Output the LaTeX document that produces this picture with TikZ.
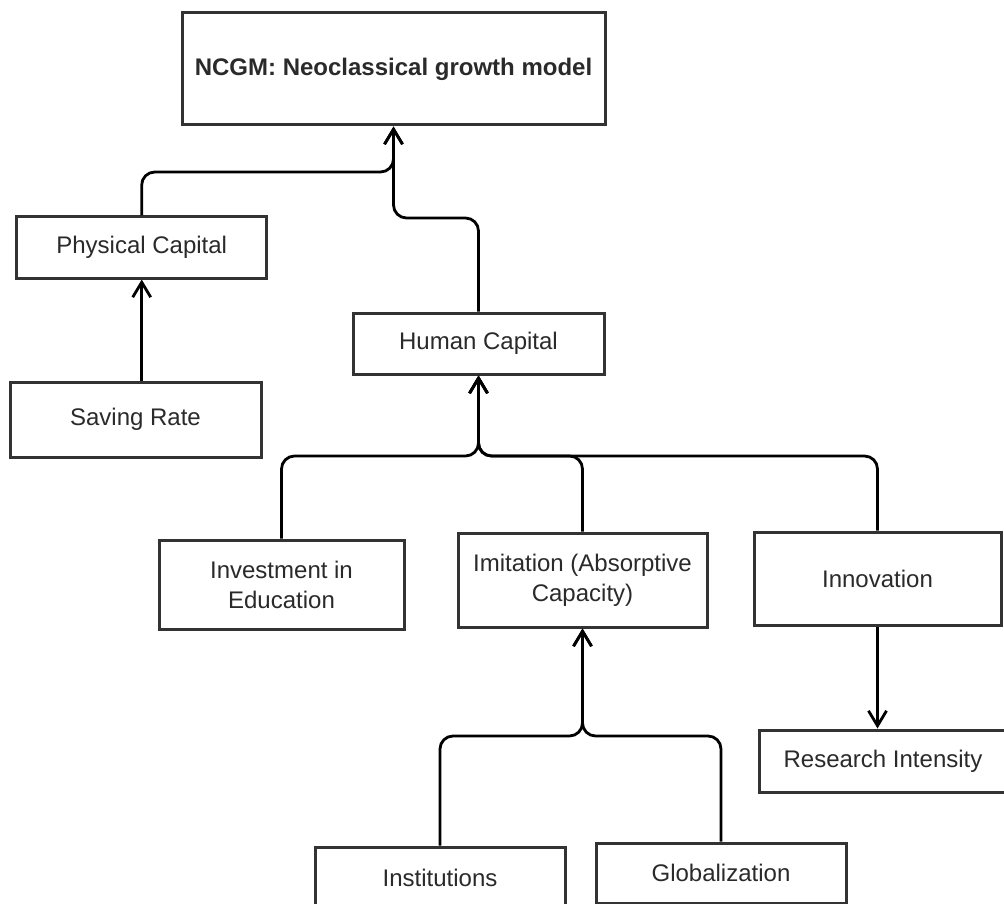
\documentclass[tikz,border=0pt]{standalone}
\usepackage{fontspec}
\setmainfont{Liberation Sans}
\usetikzlibrary{arrows.meta}
\definecolor{boxline}{HTML}{333333}
\definecolor{txt}{HTML}{2A2A2A}
\begin{document}
\begin{tikzpicture}[x=1pt,y=-1pt,
  box/.style={draw=boxline,line width=3pt,fill=white,inner sep=0pt,align=center,
    text=txt,font=\fontsize{24}{30}\selectfont},
  conn/.style={draw=black,line width=2.8pt,rounded corners=13pt},
  arr/.style={-{Straight Barb[length=15pt,width=18pt,line width=2.8pt]}}
]
\useasboundingbox (0,0) rectangle (1004,904);
\fill[white] (0,0) rectangle (1004,904);
% nodes
\node[box,minimum width=423pt,minimum height=112pt,font=\fontsize{24}{30}\selectfont\bfseries] (ncgm) at (393.5,69) {NCGM: Neoclassical growth model};
\node[box,minimum width=250pt,minimum height=61pt] (phys) at (141.7,247.5) {Physical Capital};
\node[box,minimum width=251pt,minimum height=75pt] (save) at (135.5,419.5) {Saving Rate};
\node[box,minimum width=251pt,minimum height=61pt] (hc) at (478.5,343.5) {Human Capital};
\node[box,minimum width=245pt,minimum height=89pt] (inv) at (281.5,584.5) {Investment in\\Education};
\node[box,minimum width=249pt,minimum height=94pt] (imi) at (582.5,580) {Imitation (Absorptive\\Capacity)};
\node[box,minimum width=247pt,minimum height=93pt] (inn) at (877.5,578.5) {Innovation};
\node[box,minimum width=248pt,minimum height=62pt] (ri) at (883,761) {Research Intensity};
\node[box,minimum width=250pt,minimum height=61pt] (inst) at (440,877.5) {Institutions};
\node[box,minimum width=250pt,minimum height=60pt] (glob) at (721,873) {Globalization};
% junction coordinates
\coordinate (j1) at (393.5,172);
\coordinate (j2) at (393.5,218);
\coordinate (j3) at (478.5,456);
\coordinate (j4) at (582.5,736);
% connectors
\draw[conn,arr] (phys.north) |- (j1) -- (ncgm.south);
\draw[conn,arr] (hc.north) |- (j2) -- (ncgm.south);
\draw[conn,arr] (phys.south |- save.north) -- (phys.south);
\draw[conn,arr] (inv.north) |- (j3) -- (hc.south);
\draw[conn,arr] (imi.north) |- (j3) -- (hc.south);
\draw[conn,arr] (inn.north) |- (j3) -- (hc.south);
\draw[conn,arr] (inst.north) |- (j4) -- (imi.south);
\draw[conn,arr] (glob.north) |- (j4) -- (imi.south);
\draw[conn,arr] (inn.south) -- (inn.south |- ri.north);
\end{tikzpicture}
\end{document}
